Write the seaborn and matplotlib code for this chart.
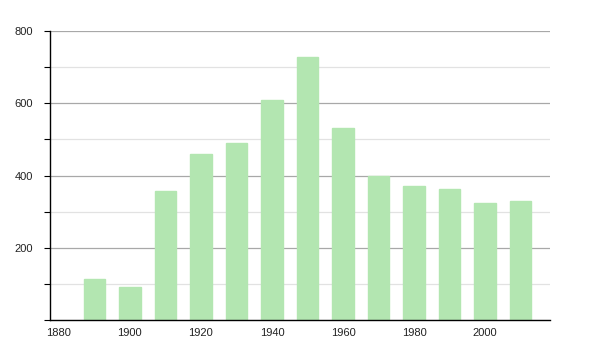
import matplotlib
matplotlib.use("Agg")
import matplotlib.pyplot as plt
import seaborn as sns
import pandas as pd
from matplotlib.ticker import MultipleLocator

years = [1890, 1900, 1910, 1920, 1930, 1940, 1950, 1960, 1970, 1980, 1990, 2000, 2010]
population = [114, 91, 357, 460, 490, 609, 727, 531, 399, 371, 363, 324, 329]
x_ticks = [1880, 1900, 1920, 1940, 1960, 1980, 2000]
y_ticks = [200, 400, 600, 800]

sns.set_style("white")
plt.rcParams['font.family'] = ['Liberation Sans', 'DejaVu Sans']

df = pd.DataFrame({"year": years, "population": population})

fig = plt.figure(figsize=(6, 3.5), dpi=100)
ax = fig.add_axes([50/600, 30/350, 500/600, 289/350])

ax.yaxis.set_minor_locator(MultipleLocator(100))
ax.set_ylim(0, 800)
ax.set_yticks(y_ticks)
ax.grid(which='major', axis='y', color='#a8a8a8', linewidth=0.9, zorder=0)
ax.grid(which='minor', axis='y', color='#e2e2e2', linewidth=0.9, zorder=0)
ax.set_axisbelow(True)

sns.barplot(data=df, x="year", y="population", native_scale=True, width=0.6,
            color="#b3e6b1", saturation=1, edgecolor="#b3e6b1", ax=ax, zorder=2)

ax.set_xlim(1877.5, 2018.3)
ax.set_ylim(0, 800)
ax.set_xticks(x_ticks)
ax.set_xticklabels([str(t) for t in x_ticks])
ax.set_yticks(y_ticks)
ax.set_yticklabels([str(t) for t in y_ticks])
ax.set_xlabel("")
ax.set_ylabel("")

for s in ["top", "right"]:
    ax.spines[s].set_visible(False)
for s in ["left", "bottom"]:
    ax.spines[s].set_color("black")
    ax.spines[s].set_linewidth(1.0)

ax.tick_params(axis='y', which='major', left=True, length=4, width=0.8, color='black',
               labelsize=8, labelcolor='#222222', pad=8)
ax.tick_params(axis='y', which='minor', left=True, length=4, width=0.8, color='black')
ax.tick_params(axis='x', which='major', bottom=False, labelsize=8, labelcolor='#222222', pad=2)

fig.savefig("out.png", dpi=100, facecolor="white")
